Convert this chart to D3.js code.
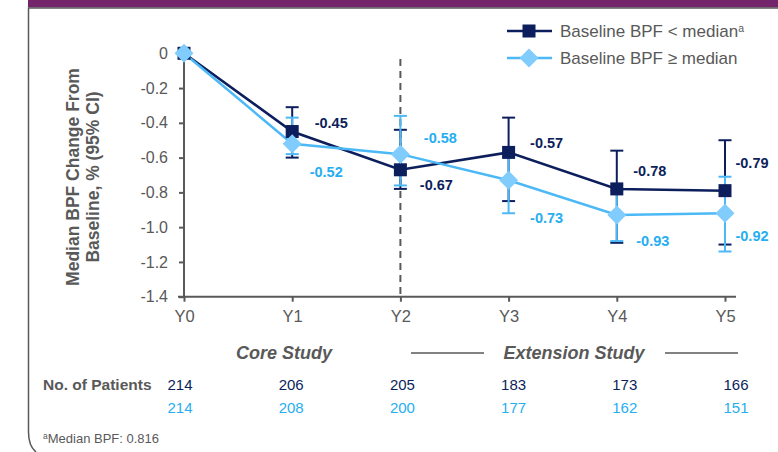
<!DOCTYPE html>
<html>
<head>
<meta charset="utf-8">
<script src="https://cdn.jsdelivr.net/npm/d3@7"></script>
<style>
	html, body { margin: 0; padding: 0; background: #fff; }
	svg { display: block; font-family: 'Liberation Sans', Arial, sans-serif; }
</style>
</head>
<body>
<div id="chart"></div>
<script>
//////////////////////////////////////////////////
// data
//////////////////////////////////////////////////
var years = ['Y0', 'Y1', 'Y2', 'Y3', 'Y4', 'Y5'];
var yTicks = [0, -0.2, -0.4, -0.6, -0.8, -1.0, -1.2, -1.4];

var belowMedian = [0, -0.45, -0.67, -0.57, -0.78, -0.79];
var belowLower = [null, -0.60, -0.78, -0.85, -1.09, -1.10];
var belowUpper = [null, -0.31, -0.44, -0.37, -0.56, -0.50];

var aboveMedian = [0, -0.52, -0.58, -0.73, -0.93, -0.92];
var aboveLower = [null, -0.58, -0.76, -0.92, -1.08, -1.14];
var aboveUpper = [null, -0.37, -0.36, -0.59, -0.79, -0.71];

var belowPatients = [214, 206, 205, 183, 173, 166];
var abovePatients = [214, 208, 200, 177, 162, 151];

var seriesNames = ['Baseline BPF < median', 'Baseline BPF \u2265 median'];

// label placement (px offsets from the point)
var belowLabelOff = [null, [39, -9], [36, 15], [38, -9], [33, -18], [27, -28]];
var aboveLabelOff = [null, [34, 28], [40, -16], [38, 38], [36, 26], [27, 23]];

//////////////////////////////////////////////////
// setup
//////////////////////////////////////////////////
var width = 778, height = 452;
var navy = '#0c1f5c', sky = '#4cb9f6', skyMark = '#80ccfc', skyText = '#27aef0', grey = '#595959';

var svg = d3.select('#chart').append('svg')
	.attr('width', width)
	.attr('height', height);

var x = d3.scalePoint().domain(years).range([184, 725]);
var y = d3.scaleLinear().domain([-1.4, 0]).range([296.7, 53.3]);
var xTable = d3.scalePoint().domain(years).range([180, 736]);

// slide frame
svg.append('rect').attr('x', 28).attr('y', 0).attr('width', width - 28).attr('height', 7.5).attr('fill', '#74246b');
svg.append('path')
	.attr('d', 'M' + (width) + ',8 L28.5,8 L28.5,432 Q28.5,446 36,452')
	.attr('fill', 'none').attr('stroke', grey).attr('stroke-width', 1.5);

//////////////////////////////////////////////////
// axes
//////////////////////////////////////////////////
var yAxis = svg.append('g')
	.attr('transform', 'translate(184,0)')
	.call(d3.axisLeft(y).tickValues(yTicks).tickSize(5).tickPadding(11)
		.tickFormat(function(d) { return d === 0 ? '0' : d.toFixed(1); }));
yAxis.select('.domain').attr('d', 'M0,' + y(0) + 'V' + y(-1.4));

var xAxis = svg.append('g')
	.attr('transform', 'translate(0,' + y(-1.4) + ')')
	.call(d3.axisBottom(x).tickSize(5).tickPadding(9));
xAxis.select('.domain').attr('d', 'M178,0H736');

svg.selectAll('.domain, .tick line').attr('stroke', grey).attr('stroke-width', 2);
yAxis.selectAll('text').attr('fill', grey).style('font-size', '16px');
xAxis.selectAll('text').attr('fill', grey).style('font-size', '16.5px');

// core / extension divider
svg.append('line')
	.attr('x1', x('Y2')).attr('x2', x('Y2'))
	.attr('y1', 59).attr('y2', y(-1.4))
	.attr('stroke', grey).attr('stroke-width', 2)
	.attr('stroke-dasharray', '7,5');

// y title
var yTitle = svg.append('text')
	.attr('transform', 'translate(82,177) rotate(-90)')
	.attr('text-anchor', 'middle')
	.attr('fill', grey)
	.style('font-weight', 'bold')
	.style('font-size', '17.5px');
yTitle.append('tspan').attr('x', 0).attr('dy', '-0.2em').text('Median BPF Change From');
yTitle.append('tspan').attr('x', 0).attr('dy', '1.15em').text('Baseline, % (95% CI)');

//////////////////////////////////////////////////
// series
//////////////////////////////////////////////////
var series = [
	{ vals: belowMedian, lo: belowLower, hi: belowUpper, color: navy, text: navy, shape: 'square', off: belowLabelOff },
	{ vals: aboveMedian, lo: aboveLower, hi: aboveUpper, color: sky, text: skyText, shape: 'diamond', off: aboveLabelOff }
];

function drawMarker(g, shape, cx, cy) {
	if (shape === 'square') {
		g.append('rect')
			.attr('x', cx - 6.5).attr('y', cy - 6.5)
			.attr('width', 13).attr('height', 13)
			.attr('fill', navy);
	} else {
		g.append('path')
			.attr('d', 'M' + cx + ',' + (cy - 9.5) + 'L' + (cx + 9.5) + ',' + cy + 'L' + cx + ',' + (cy + 9.5) + 'L' + (cx - 9.5) + ',' + cy + 'Z')
			.attr('fill', skyMark);
	}
}

// error bars
series.forEach(function(s) {
	var g = svg.append('g').attr('stroke', s.color).attr('stroke-width', 2);
	years.forEach(function(yr, i) {
		if (s.lo[i] === null) return;
		var cx = x(yr);
		g.append('line').attr('x1', cx).attr('x2', cx).attr('y1', y(s.lo[i])).attr('y2', y(s.hi[i]));
		[s.lo[i], s.hi[i]].forEach(function(v) {
			g.append('line').attr('x1', cx - 6.5).attr('x2', cx + 6.5).attr('y1', y(v)).attr('y2', y(v));
		});
	});
});

// lines
var line = d3.line()
	.x(function(d, i) { return x(years[i]); })
	.y(function(d) { return y(d); });

series.forEach(function(s) {
	svg.append('path')
		.datum(s.vals)
		.attr('d', line)
		.attr('fill', 'none')
		.attr('stroke', s.color)
		.attr('stroke-width', 2.5);
});

// markers + value labels
series.forEach(function(s) {
	var g = svg.append('g');
	s.vals.forEach(function(v, i) {
		drawMarker(g, s.shape, x(years[i]), y(v));
		if (s.off[i] === null) return;
		g.append('text')
			.attr('x', x(years[i]) + s.off[i][0])
			.attr('y', y(v) + s.off[i][1])
			.attr('dy', '0.35em')
			.attr('text-anchor', 'middle')
			.attr('fill', s.text)
			.style('font-weight', 'bold')
			.style('font-size', '14.5px')
			.text(v.toFixed(2));
	});
});

//////////////////////////////////////////////////
// legend
//////////////////////////////////////////////////
var legend = svg.append('g');
series.forEach(function(s, i) {
	var ly = 31 + i * 27;
	legend.append('line')
		.attr('x1', 507).attr('x2', 552).attr('y1', ly).attr('y2', ly)
		.attr('stroke', s.color).attr('stroke-width', 2.5);
	drawMarker(legend, s.shape, 529, ly);
	var t = legend.append('text')
		.attr('x', 560).attr('y', ly).attr('dy', '0.35em')
		.attr('fill', grey)
		.style('font-size', '17px')
		.text(seriesNames[i]);
	if (i === 0) {
		t.append('tspan').attr('dy', '-0.45em').style('font-size', '10.5px').text('a');
	}
});

//////////////////////////////////////////////////
// study phases + patient counts
//////////////////////////////////////////////////
var phase = svg.append('g')
	.attr('fill', grey)
	.style('font-weight', 'bold')
	.style('font-style', 'italic')
	.style('font-size', '18px')
	.attr('text-anchor', 'middle');
phase.append('text').attr('x', 284).attr('y', 353).attr('dy', '0.35em').text('Core Study');
phase.append('text').attr('x', 574).attr('y', 353).attr('dy', '0.35em').text('Extension Study');
[[411, 484], [665, 738]].forEach(function(d) {
	svg.append('line').attr('x1', d[0]).attr('x2', d[1]).attr('y1', 353).attr('y2', 353)
		.attr('stroke', grey).attr('stroke-width', 1.5);
});

svg.append('text')
	.attr('x', 43).attr('y', 385).attr('dy', '0.35em')
	.attr('fill', grey)
	.style('font-weight', 'bold')
	.style('font-size', '15.5px')
	.text('No. of Patients');

[[belowPatients, navy, 385], [abovePatients, skyText, 408]].forEach(function(row) {
	svg.append('g').selectAll('text')
		.data(row[0])
		.join('text')
		.attr('x', function(d, i) { return xTable(years[i]); })
		.attr('y', row[2])
		.attr('dy', '0.35em')
		.attr('text-anchor', 'middle')
		.attr('fill', row[1])
		.style('font-size', '15px')
		.text(function(d) { return d; });
});

// footnote
var foot = svg.append('text')
	.attr('x', 43).attr('y', 443).attr('dy', '0.35em')
	.attr('fill', grey)
	.style('font-size', '13px');
foot.append('tspan').attr('dy', '-0.1em').style('font-size', '8.5px').attr('baseline-shift', '35%').text('a');
foot.append('tspan').attr('dy', '0.1em').text('Median BPF: 0.816');
</script>
</body>
</html>
